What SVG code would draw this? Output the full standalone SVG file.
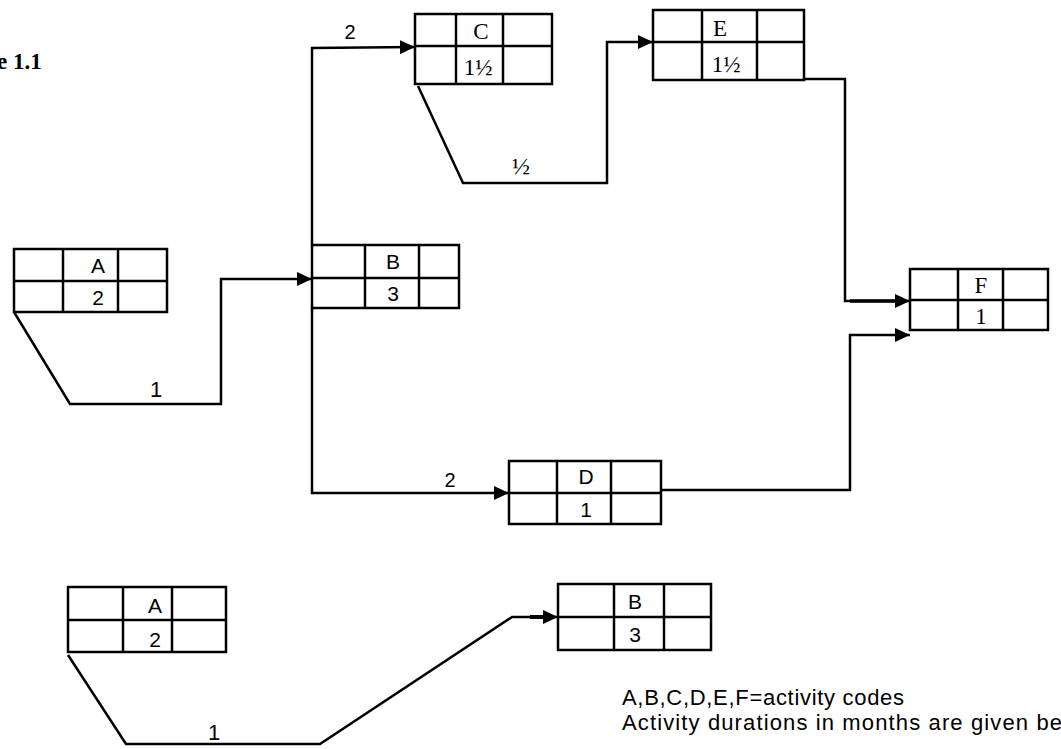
<svg xmlns="http://www.w3.org/2000/svg" width="1061" height="749" viewBox="0 0 1061 749">
<style>
.box{fill:none;stroke:#000;stroke-width:2.5}
.grid{stroke:#000;stroke-width:2.5}
.conn{fill:none;stroke:#000;stroke-width:2.5;stroke-linejoin:miter}
.sans{font-family:"Liberation Sans",Arial,sans-serif;fill:#000;text-anchor:middle}
.serif{font-family:"Liberation Serif","Times New Roman",serif;fill:#000;text-anchor:middle}
.lbl{font-size:21px}
.slbl{font-size:23px}
.leg{font-family:"Liberation Sans",Arial,sans-serif;font-size:22px;fill:#000}
</style>
<defs>
<marker id="arr" markerUnits="userSpaceOnUse" markerWidth="16" markerHeight="14" refX="15" refY="7" orient="auto">
<path d="M0,0 L15,7 L0,14 Z" fill="#000"/>
</marker>
</defs>
<rect width="1061" height="749" fill="#fff"/>

<text x="-3" y="69" font-family="'Liberation Serif','Times New Roman',serif" font-weight="bold" font-size="23" fill="#000">e 1.1</text>

<g id="connectors">
<polyline class="conn" points="14,312 70,404 221,404 221,279 312,279" marker-end="url(#arr)"/>
<polyline class="conn" points="312,245 312,48 415,47" marker-end="url(#arr)"/>
<polyline class="conn" points="312,308 312,493 509,493" marker-end="url(#arr)"/>
<polyline class="conn" points="418,86 463,183 607,183 607,42 653,42" marker-end="url(#arr)"/>
<polyline class="conn" points="804,79 845,79 845,301 910,301" marker-end="url(#arr)"/>
<polyline class="conn" points="661,490 850,490 850,335 910,335" marker-end="url(#arr)"/>
<polyline class="conn" points="68,655 126,744 320,744 512,617 558,617" marker-end="url(#arr)"/>
<line x1="530" y1="617" x2="548" y2="617" stroke="#000" stroke-width="4"/>
<line x1="850" y1="301" x2="900" y2="301" stroke="#000" stroke-width="3.5"/>
<text class="sans" x="350" y="39" font-size="20">2</text>
<text class="serif" x="521" y="174" font-size="24">½</text>
<text class="sans" x="156" y="397" font-size="22">1</text>
<text class="sans" x="450" y="487" font-size="20">2</text>
<text class="sans" x="214" y="740" font-size="22">1</text>
</g>

<g id="nodeA">
<rect class="box" x="14" y="249" width="153" height="63"/>
<line class="grid" x1="63" y1="249" x2="63" y2="312"/>
<line class="grid" x1="118" y1="249" x2="118" y2="312"/>
<line class="grid" x1="14" y1="281" x2="167" y2="281"/>
<text class="sans lbl" x="98" y="273">A</text>
<text class="sans lbl" x="98" y="305">2</text>
</g>

<g id="nodeB">
<rect class="box" x="312" y="245" width="147" height="63"/>
<line class="grid" x1="365" y1="245" x2="365" y2="308"/>
<line class="grid" x1="419" y1="245" x2="419" y2="308"/>
<line class="grid" x1="312" y1="278" x2="459" y2="278"/>
<text class="sans lbl" x="393" y="269">B</text>
<text class="sans lbl" x="393" y="301">3</text>
</g>

<g id="nodeC">
<rect class="box" x="415" y="14" width="137" height="70"/>
<line class="grid" x1="456" y1="14" x2="456" y2="84"/>
<line class="grid" x1="503" y1="14" x2="503" y2="84"/>
<line class="grid" x1="415" y1="46" x2="552" y2="46"/>
<text class="serif slbl" x="481" y="39">C</text>
<text class="serif slbl" x="478" y="75">1½</text>
</g>

<g id="nodeE">
<rect class="box" x="653" y="10" width="151" height="70"/>
<line class="grid" x1="702" y1="10" x2="702" y2="80"/>
<line class="grid" x1="757" y1="10" x2="757" y2="80"/>
<line class="grid" x1="653" y1="42" x2="804" y2="42"/>
<text class="serif slbl" x="720" y="36">E</text>
<text class="serif slbl" x="726" y="72">1½</text>
</g>

<g id="nodeF">
<rect class="box" x="910" y="269" width="138" height="61"/>
<line class="grid" x1="958" y1="269" x2="958" y2="330"/>
<line class="grid" x1="1003" y1="269" x2="1003" y2="330"/>
<line class="grid" x1="910" y1="300" x2="1048" y2="300"/>
<text class="serif slbl" x="981" y="293">F</text>
<text class="serif slbl" x="981" y="324">1</text>
</g>

<g id="nodeD">
<rect class="box" x="509" y="461" width="152" height="63"/>
<line class="grid" x1="557" y1="461" x2="557" y2="524"/>
<line class="grid" x1="611" y1="461" x2="611" y2="524"/>
<line class="grid" x1="509" y1="493" x2="661" y2="493"/>
<text class="sans lbl" x="586" y="484">D</text>
<text class="sans lbl" x="586" y="517">1</text>
</g>

<g id="nodeA2">
<rect class="box" x="68" y="587" width="158" height="65"/>
<line class="grid" x1="123" y1="587" x2="123" y2="652"/>
<line class="grid" x1="172" y1="587" x2="172" y2="652"/>
<line class="grid" x1="68" y1="620" x2="226" y2="620"/>
<text class="sans lbl" x="155" y="613">A</text>
<text class="sans lbl" x="155" y="647">2</text>
</g>

<g id="nodeB2">
<rect class="box" x="558" y="584" width="153" height="66"/>
<line class="grid" x1="614" y1="584" x2="614" y2="650"/>
<line class="grid" x1="664" y1="584" x2="664" y2="650"/>
<line class="grid" x1="558" y1="617" x2="711" y2="617"/>
<text class="sans lbl" x="635" y="609">B</text>
<text class="sans lbl" x="635" y="642">3</text>
</g>

<g id="legend">
<text class="leg" x="622" y="705" textLength="282" lengthAdjust="spacing">A,B,C,D,E,F=activity codes</text>
<text class="leg" x="622" y="730" textLength="440" lengthAdjust="spacing">Activity durations in months are given be</text>
</g>
</svg>
